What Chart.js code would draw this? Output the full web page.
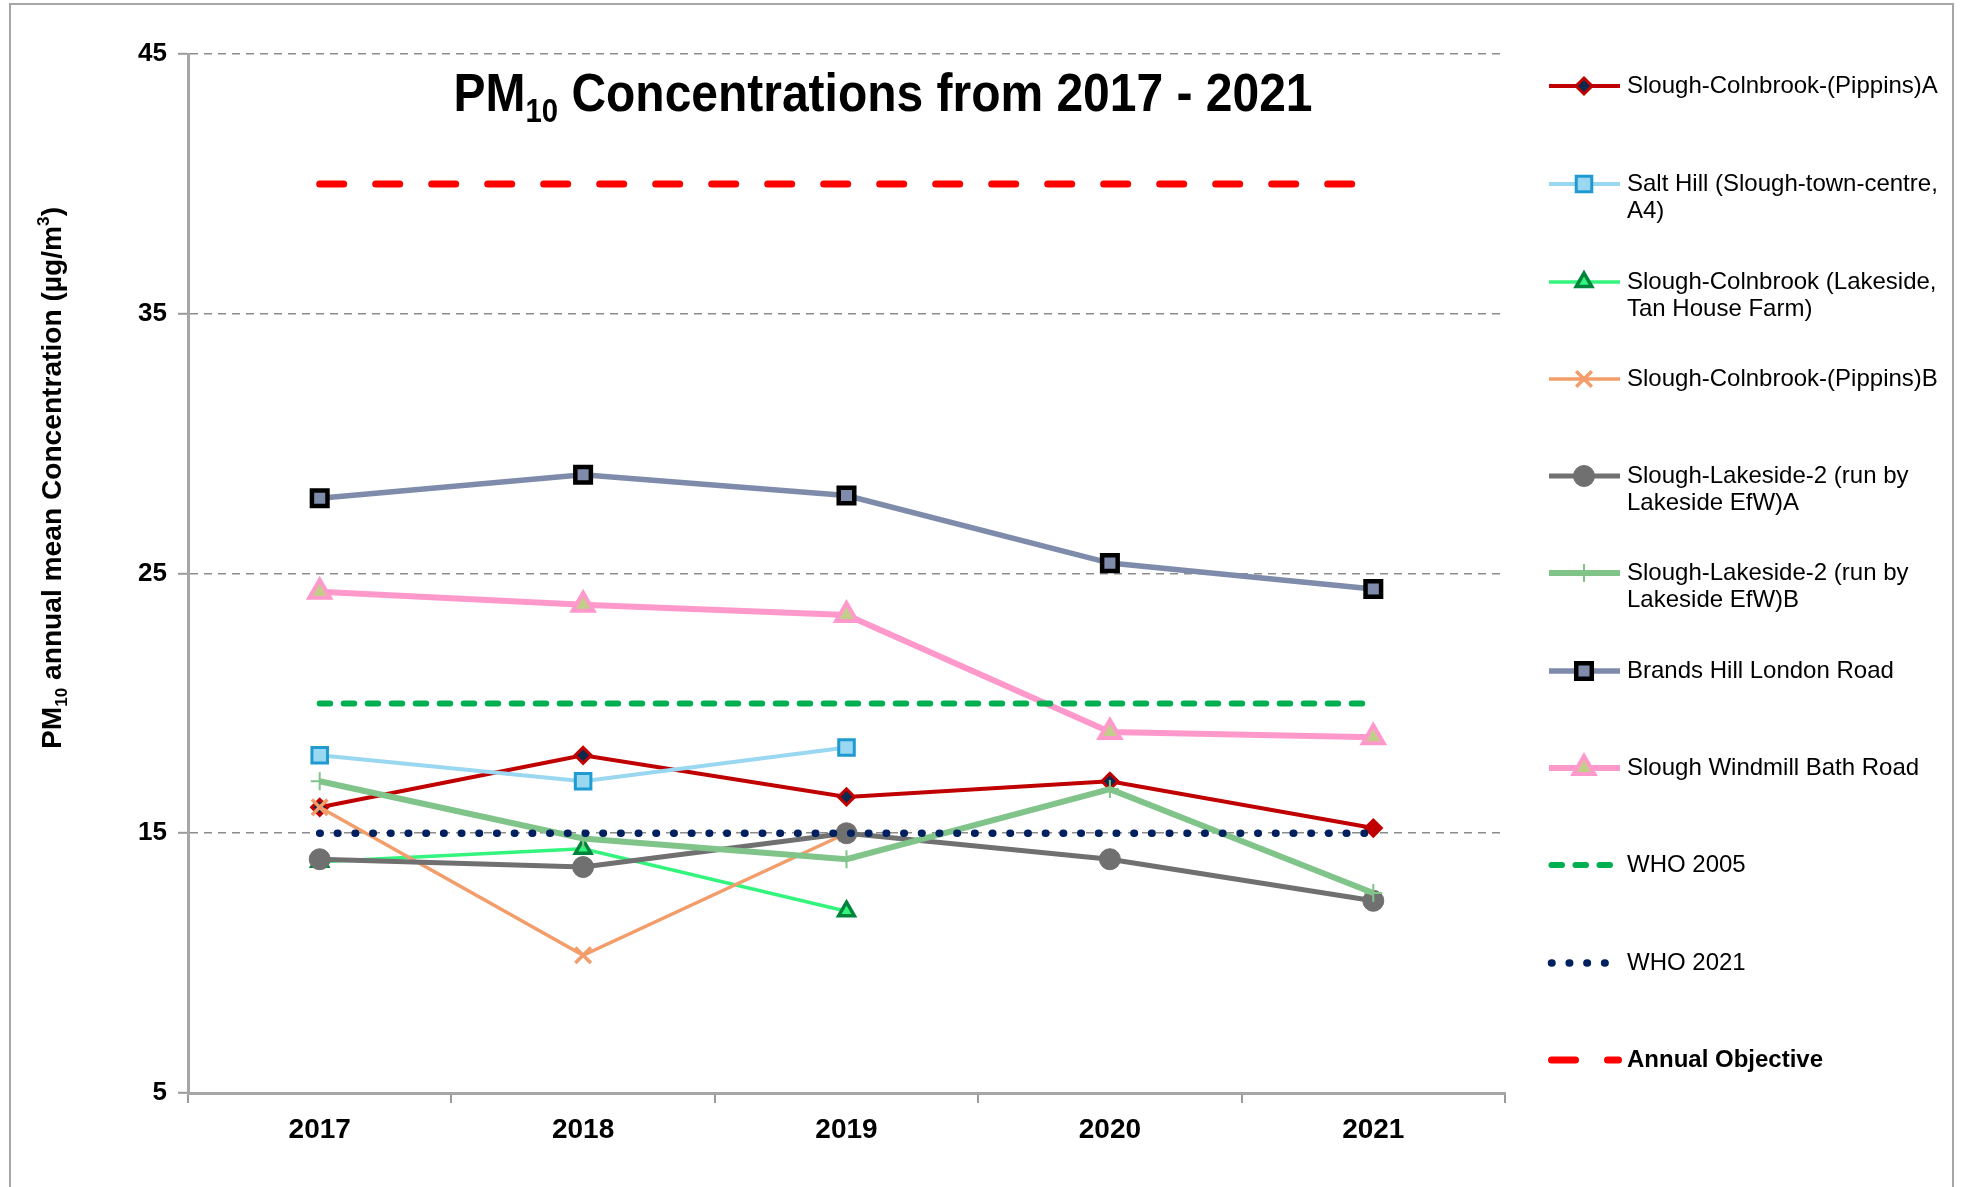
<!DOCTYPE html>
<html>
<head>
<meta charset="utf-8">
<script src="https://cdn.jsdelivr.net/npm/chart.js@4.4.1/dist/chart.umd.min.js"></script>
<style>
  html, body { margin: 0; padding: 0; background: #fff; }
  #wrap { width: 1963px; height: 1187px; position: relative; }
</style>
</head>
<body>
<div id="wrap"><canvas id="myChart"></canvas></div>
<script>
"use strict";

// data
const years = ["2017", "2018", "2019", "2020", "2021"];
const yTicks = [5, 15, 25, 35, 45];

const pippinsA = [16.0, 18.0, 16.4, 17.0, 15.2];
const saltHill = [18.0, 17.0, 18.3, null, null];
const tanHouse = [13.9, 14.4, 12.0, null, null];
const pippinsB = [16.0, 10.3, 15.0, null, null];
const lakesideA = [14.0, 13.7, 15.0, 14.0, 12.4];
const lakesideB = [17.0, 14.8, 14.0, 16.7, 12.7];
const brandsHill = [27.9, 28.8, 28.0, 25.4, 24.4];
const windmill = [24.3, 23.8, 23.4, 18.9, 18.7];
const who2005 = [20, 20, 20, 20, 20];
const who2021 = [15, 15, 15, 15, 15];
const annualObjective = [40, 40, 40, 40, 40];

const legendText = [
  ["Slough-Colnbrook-(Pippins)A"],
  ["Salt Hill (Slough-town-centre,", "A4)"],
  ["Slough-Colnbrook (Lakeside,", "Tan House Farm)"],
  ["Slough-Colnbrook-(Pippins)B"],
  ["Slough-Lakeside-2 (run by", "Lakeside EfW)A"],
  ["Slough-Lakeside-2 (run by", "Lakeside EfW)B"],
  ["Brands Hill London Road"],
  ["Slough Windmill Bath Road"],
  ["WHO 2005"],
  ["WHO 2021"],
  ["Annual Objective"],
];

const FONT = "'Liberation Sans', Arial, sans-serif";
const legendY = [86, 184, 282, 379, 476, 573, 671, 768, 865, 963, 1060];

function drawRich(ctx, parts, size, targetWidth) {
  const small = Math.round(size * 0.62);
  let total = 0;
  parts.forEach((p) => {
    ctx.font = "bold " + (p.sub || p.sup ? small : size) + "px " + FONT;
    p.w = ctx.measureText(p.t).width;
    total += p.w;
  });
  ctx.scale(targetWidth / total, 1);
  let x = -total / 2;
  ctx.textAlign = "left";
  ctx.textBaseline = "alphabetic";
  parts.forEach((p) => {
    ctx.font = "bold " + (p.sub || p.sup ? small : size) + "px " + FONT;
    let dy = 0;
    if (p.sub) dy = size * 0.2;
    if (p.sup) dy = -size * 0.42;
    ctx.fillText(p.t, x, dy);
    x += p.w;
  });
}

const decorPlugin = {
  id: "decor",
  beforeDraw(chart) {
    const ctx = chart.ctx;
    ctx.save();
    ctx.fillStyle = "#fff";
    ctx.fillRect(0, 0, chart.width, chart.height);
    ctx.strokeStyle = "#a6a6a6";
    ctx.lineWidth = 2;
    ctx.strokeRect(10, 4, 1943, 1300);
    ctx.restore();
  },
  afterDraw(chart) {
    const ctx = chart.ctx;

    // title
    ctx.save();
    ctx.fillStyle = "#000";
    ctx.translate(883, 111);
    drawRich(ctx, [{ t: "PM" }, { t: "10", sub: true }, { t: " Concentrations from 2017 - 2021" }], 54, 859);
    ctx.restore();

    // y axis title
    ctx.save();
    ctx.fillStyle = "#000";
    ctx.translate(61, 478);
    ctx.rotate(-Math.PI / 2);
    drawRich(ctx, [{ t: "PM" }, { t: "10", sub: true }, { t: " annual mean Concentration (µg/m" }, { t: "3", sup: true }, { t: ")" }], 28, 542);
    ctx.restore();

    // legend on the right
    chart.data.datasets.forEach((ds, i) => {
      const y = legendY[i];
      ctx.save();
      ctx.strokeStyle = ds.borderColor;
      ctx.lineWidth = ds.borderWidth;
      ctx.lineCap = ds.borderCapStyle || "butt";
      ctx.setLineDash(ds.borderDash || []);
      ctx.beginPath();
      if (ds.borderDash) {
        ctx.moveTo(1551.5, y);
        ctx.lineTo(1618.5, y);
      } else {
        ctx.moveTo(1549, y);
        ctx.lineTo(1620, y);
      }
      ctx.stroke();
      ctx.setLineDash([]);
      if (ds.pointRadius > 0) {
        const bg = Array.isArray(ds.pointBackgroundColor) ? ds.pointBackgroundColor[0] : ds.pointBackgroundColor;
        ctx.fillStyle = bg;
        ctx.strokeStyle = ds.pointBorderColor;
        ctx.lineWidth = ds.pointBorderWidth;
        Chart.helpers.drawPoint(ctx, {
          pointStyle: ds.pointStyle,
          radius: ds.pointRadius,
          borderWidth: ds.pointBorderWidth,
          rotation: 0,
        }, 1584, y);
      }
      ctx.fillStyle = "#000";
      ctx.textAlign = "left";
      ctx.textBaseline = "middle";
      ctx.font = (i === 10 ? "bold " : "") + "24px " + FONT;
      legendText[i].forEach((line, k) => {
        ctx.fillText(line, 1627, y + k * 27);
      });
      ctx.restore();
    });
  },
};

const datasets = [
  {
    label: legendText[0].join(" "),
    data: pippinsA,
    borderColor: "#c00000",
    borderWidth: 4,
    pointStyle: "rectRot",
    pointRadius: 8,
    pointBorderWidth: 3,
    pointBorderColor: "#c00000",
    pointBackgroundColor: ["#0d2a4e", "#0d2a4e", "#0d2a4e", "#0d2a4e", "#c00000"],
  },
  {
    label: legendText[1].join(" "),
    data: saltHill,
    borderColor: "#9ad7f1",
    borderWidth: 4,
    pointStyle: "rect",
    pointRadius: 11,
    pointBorderWidth: 3,
    pointBorderColor: "#1f9bd1",
    pointBackgroundColor: "#9ad7f1",
  },
  {
    label: legendText[2].join(" "),
    data: tanHouse,
    borderColor: "#33f57d",
    borderWidth: 3.5,
    pointStyle: "triangle",
    pointRadius: 9,
    pointBorderWidth: 3.5,
    pointBorderColor: "#00843c",
    pointBackgroundColor: "#33f57d",
  },
  {
    label: legendText[3].join(" "),
    data: pippinsB,
    borderColor: "#f29d6a",
    borderWidth: 3.5,
    pointStyle: "crossRot",
    pointRadius: 11,
    pointBorderWidth: 3.5,
    pointBorderColor: "#f29d6a",
    pointBackgroundColor: "#f29d6a",
  },
  {
    label: legendText[4].join(" "),
    data: lakesideA,
    borderColor: "#707070",
    borderWidth: 5,
    pointStyle: "circle",
    pointRadius: 10.5,
    pointBorderWidth: 1,
    pointBorderColor: "#707070",
    pointBackgroundColor: "#707070",
  },
  {
    label: legendText[5].join(" "),
    data: lakesideB,
    borderColor: "#80c48a",
    borderWidth: 6,
    pointStyle: "cross",
    pointRadius: 9,
    pointBorderWidth: 2,
    pointBorderColor: "#80c48a",
    pointBackgroundColor: "#80c48a",
  },
  {
    label: legendText[6].join(" "),
    data: brandsHill,
    borderColor: "#7f8bab",
    borderWidth: 5.5,
    pointStyle: "rect",
    pointRadius: 11,
    pointBorderWidth: 4.5,
    pointBorderColor: "#000",
    pointBackgroundColor: "#7f8bab",
  },
  {
    label: legendText[7].join(" "),
    data: windmill,
    borderColor: "#ff99cc",
    borderWidth: 6,
    pointStyle: "triangle",
    pointRadius: 12,
    pointBorderWidth: 4,
    pointBorderColor: "#ff99cc",
    pointBackgroundColor: "#c4cc8a",
  },
  {
    label: legendText[8][0],
    data: who2005,
    borderColor: "#00b050",
    borderWidth: 6,
    borderDash: [10.5, 13.5],
    borderCapStyle: "round",
    pointRadius: 0,
  },
  {
    label: legendText[9][0],
    data: who2021,
    borderColor: "#002060",
    borderWidth: 7.5,
    borderDash: [0.5, 17.2],
    borderCapStyle: "round",
    pointRadius: 0,
  },
  {
    label: legendText[10][0],
    data: annualObjective,
    borderColor: "#ff0000",
    borderWidth: 7,
    borderDash: [24, 32],
    borderCapStyle: "round",
    pointRadius: 0,
  },
];

// later series are drawn on top, as in the original
datasets.forEach((ds, i) => {
  ds.order = datasets.length - i;
  ds.tension = 0;
  ds.fill = false;
  ds.spanGaps = false;
  ds.pointHoverRadius = ds.pointRadius;
});

const config = {
  type: "line",
  data: { labels: years, datasets: datasets },
  options: {
    responsive: true,
    maintainAspectRatio: false,
    animation: false,
    layout: { padding: { left: 0, top: 54, right: 458, bottom: 0 } },
    plugins: {
      legend: { display: false },
      tooltip: { enabled: false },
      title: { display: false },
    },
    scales: {
      x: {
        offset: true,
        afterFit: (scale) => { scale.height = 94; },
        grid: {
          offset: true,
          drawOnChartArea: false,
          drawTicks: true,
          tickLength: 10,
          color: "#9a9a9a",
          lineWidth: 2,
        },
        border: { color: "#a6a6a6", width: 3 },
        ticks: {
          color: "#000",
          padding: 10,
          font: { family: FONT, size: 28, weight: "bold" },
        },
      },
      y: {
        min: 5,
        max: 45,
        afterFit: (scale) => { scale.width = 188; },
        afterBuildTicks: (scale) => { scale.ticks = yTicks.map((v) => ({ value: v })); },
        grid: {
          color: "#8c8c8c",
          lineWidth: 1.6,
          tickLength: 10,
          tickColor: "#9a9a9a",
          tickWidth: 2,
        },
        border: { color: "#a6a6a6", width: 3, dash: [8, 6] },
        ticks: {
          color: "#000",
          padding: 11,
          font: { family: FONT, size: 26, weight: "bold" },
        },
      },
    },
  },
  plugins: [decorPlugin],
};

const canvasChart = document.getElementById("myChart");
new Chart(canvasChart, config);
</script>
</body>
</html>
